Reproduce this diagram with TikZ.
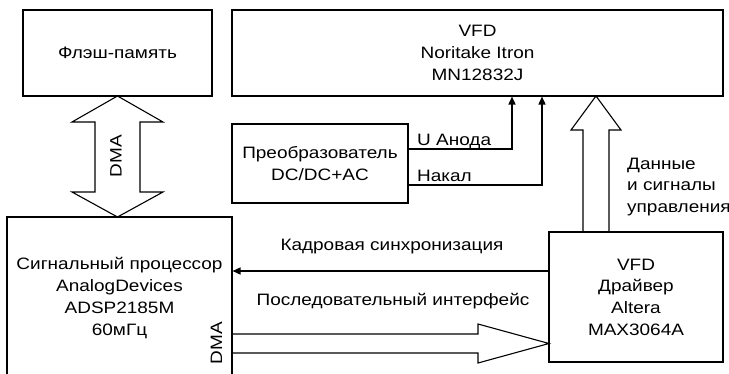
\documentclass[tikz,border=0pt]{standalone}
\usepackage{fontspec}
\setmainfont{Liberation Sans}[FakeStretch=1.15]
\usetikzlibrary{arrows.meta}
\newcommand\figfont{\fontsize{16.5}{21.7}\selectfont}
\begin{document}
\begin{tikzpicture}[x=1pt,y=-1pt,
  box/.style={draw,line width=1.1pt,inner sep=0pt,align=center,font=\figfont},
  lbl/.style={inner sep=0pt,font=\figfont},
  conn/.style={line width=1.6pt,-{Triangle[length=8pt,width=7pt]}},
  fat/.style={line width=1.1pt,line join=miter}]
\useasboundingbox (0,0) rectangle (729,373);
\clip (0,0) rectangle (729,373);
% boxes
\node[box,minimum width=189pt,minimum height=86pt] (flash) at (117.5,53) {Флэш-память};
\node[box,minimum width=491pt,minimum height=86pt] (vfd) at (477.5,53) {VFD\\Noritake Itron\\MN12832J};
\node[box,minimum width=176pt,minimum height=79pt] (conv) at (320,163.5) {Преобразователь\\DC/DC+AC};
\node[box,minimum width=174pt,minimum height=130pt] (drv) at (636,297) {VFD\\Драйвер\\Altera\\MAX3064A};
\node[box,minimum width=225pt,minimum height=183pt] (proc) at (119.5,308.5) {};
\node[lbl,align=center] (proctext) at (119.5,298) {Сигнальный процессор\\AnalogDevices\\ADSP2185M\\60мГц};
% helper coordinates
\coordinate (ya) at (0,149);
\coordinate (yn) at (0,185);
\coordinate (xa) at (512,0);
\coordinate (xn) at (542,0);
\coordinate (yk) at (0,271);
% thin connectors
\draw[conn] (conv.east |- ya) -| (vfd.south -| xa);
\draw[conn] (conv.east |- yn) -| (vfd.south -| xn);
\draw[conn] (drv.west |- yk) -- (proc.east |- yk);
% fat DMA double arrow
\draw[fat] (117.5,96) -- (163,122) -- (140,122) -- (140,192) -- (163,192) -- (117.5,217)
  -- (72,192) -- (95,192) -- (95,122) -- (72,122) -- cycle;
% fat up arrow
\draw[fat] (596,232) -- (583,232) -- (583,130) -- (571,130) -- (596,96) -- (621,130)
  -- (609,130) -- (609,232);
% fat right arrow
\draw[fat] (232,334) -- (478,334) -- (478,324) -- (549,343.5) -- (478,363) -- (478,353) -- (232,353);
% labels
\node[lbl,anchor=base west] (ua) at (417,145) {U Анода};
\node[lbl,anchor=base west] (nk) at (417,181) {Накал};
\node[lbl,anchor=base] (ks) at (392,250) {Кадровая синхронизация};
\node[lbl,anchor=base] (pi) at (393,305) {Последовательный интерфейс};
\node[lbl,anchor=west,align=left] (ds) at (627,187) {Данные\\и сигналы\\управления};
\node[lbl,rotate=90] (dma1) at (116,156) {DMA};
\node[lbl,rotate=90] (dma2) at (216.5,343) {DMA};
\end{tikzpicture}
\end{document}
